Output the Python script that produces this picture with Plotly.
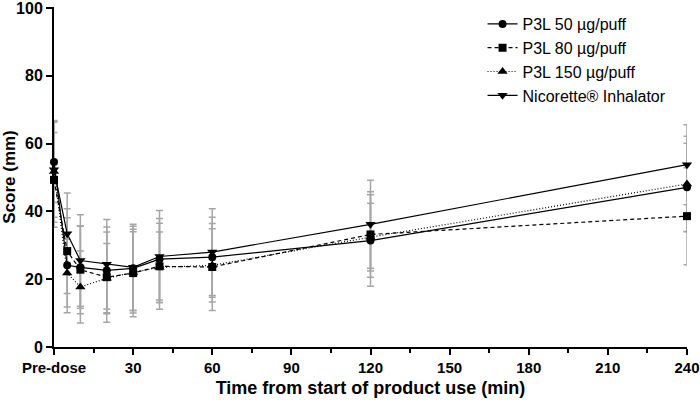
import plotly.graph_objects as go

time_min = [0, 5, 10, 20, 30, 40, 60, 120, 240]
x_tick_vals = [0, 30, 60, 90, 120, 150, 180, 210, 240]
x_tick_text = ["Pre-dose", "30", "60", "90", "120", "150", "180", "210", "240"]
y_tick_vals = [0, 20, 40, 60, 80, 100]

series_names = ["P3L 50 µg/puff", "P3L 80 µg/puff", "P3L 150 µg/puff", "Nicorette® Inhalator"]
p3l_50 = [54.6, 24.1, 23.5, 22.6, 23.2, 25.9, 26.5, 31.4, 47.1]
p3l_50_sd = [12.0, 14.0, 12.1, 12.8, 12.4, 12.0, 11.8, 13.5, 13.0]
p3l_80 = [49.3, 28.3, 22.8, 20.6, 21.8, 23.8, 23.6, 33.2, 38.6]
p3l_80_sd = [14.0, 12.5, 13.0, 13.3, 12.9, 12.7, 12.8, 12.6, 14.3]
p3l_150 = [51.8, 21.8, 17.7, 20.3, 22.0, 23.5, 24.1, 32.4, 48.1]
p3l_150_sd = [15.0, 10.0, 10.6, 10.2, 12.0, 10.4, 10.8, 10.0, 14.1]
nicorette = [52.3, 33.4, 25.5, 24.4, 23.5, 26.7, 28.0, 36.2, 53.8]
nicorette_sd = [14.0, 12.0, 13.5, 13.2, 12.7, 13.6, 12.8, 13.0, 11.8]

values = [p3l_50, p3l_80, p3l_150, nicorette]
sds = [p3l_50_sd, p3l_80_sd, p3l_150_sd, nicorette_sd]
symbols = ["circle", "square", "triangle-up", "triangle-down"]
dashes = ["solid", "4px,3px", "1px,2px", "solid"]
msizes = [8, 8, 9, 9]

FONT = "Liberation Sans, Arial, sans-serif"
fig = go.Figure()

# error bars first (underneath all lines/markers)
for v, sd in zip(values, sds):
    fig.add_trace(go.Scatter(
        x=time_min, y=v, mode="markers",
        marker=dict(size=1, opacity=0),
        error_y=dict(type="data", array=sd, visible=True, color="#a6a6a6", thickness=1.5, width=3.5),
        showlegend=False, hoverinfo="skip", cliponaxis=False,
    ))

for name, v, sym, dash, ms in zip(series_names, values, symbols, dashes, msizes):
    fig.add_trace(go.Scatter(
        x=time_min, y=v, mode="lines+markers", name=name,
        line=dict(color="black", width=1.2, dash=dash),
        marker=dict(symbol=sym, size=ms, color="black"),
        cliponaxis=False,
    ))

fig.update_layout(
    width=700, height=403,
    margin=dict(l=54, r=13, t=7, b=56, autoexpand=False),
    paper_bgcolor="white", plot_bgcolor="white",
    font=dict(family=FONT, color="black", size=16),
    showlegend=True,
    legend=dict(x=0.677, y=1.0, xanchor="left", yanchor="top",
                font=dict(size=16, family=FONT), bgcolor="rgba(0,0,0,0)",
                itemwidth=30, tracegroupgap=0),
)
fig.update_xaxes(
    range=[0, 240], tickmode="array", tickvals=x_tick_vals, ticktext=x_tick_text,
    automargin=False, ticklabeloverflow="allow",
    showline=True, linecolor="black", linewidth=2, ticks="outside", ticklen=6, tickwidth=2,
    tickcolor="black", showgrid=False, zeroline=False,
    tickfont=dict(size=15, family=FONT, weight="bold"),
    minor=dict(dtick=15, tick0=0, ticks="outside", ticklen=4, tickwidth=2, tickcolor="black"),
    title=dict(text="<b>Time from start of product use (min)</b>", font=dict(size=18, family=FONT), standoff=6),
)
fig.update_yaxes(
    range=[0, 100.3], tickmode="array", tickvals=y_tick_vals,
    automargin=False, ticklabeloverflow="allow",
    showline=True, linecolor="black", linewidth=2, ticks="outside", ticklen=6, tickwidth=2,
    tickcolor="black", showgrid=False, zeroline=False,
    tickfont=dict(size=16, family=FONT, weight="bold"),
    title=dict(text="<b>Score (mm)</b>", font=dict(size=17, family=FONT), standoff=3),
)
fig.write_html("out.html", config={"displayModeBar": False},
               post_script="document.body.style.margin='0';")
